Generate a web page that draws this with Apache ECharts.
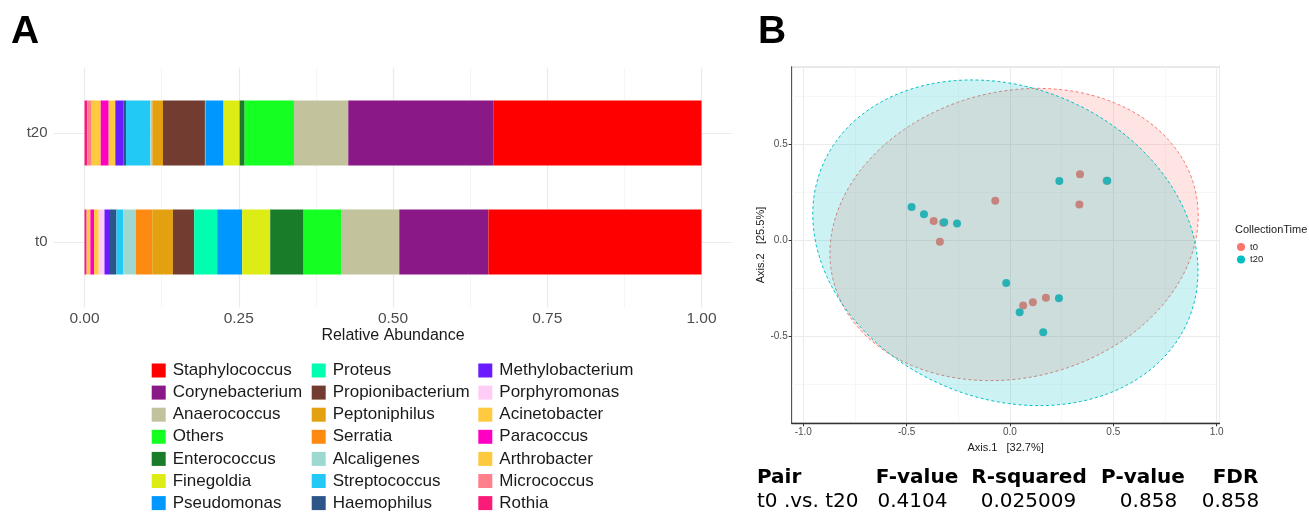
<!DOCTYPE html>
<html><head><meta charset="utf-8">
<script src="https://cdn.jsdelivr.net/npm/echarts@6/dist/echarts.min.js"></script>
<style>html,body{margin:0;padding:0;background:#fff}#c{width:1309px;height:512px}</style>
</head><body><div id="c"></div>
<script>
// ---------- Panel A data ----------
const samples = ['t0', 't20'];
// genera in stacking order (from 0 outward)
const genera = ['Rothia','Micrococcus','Arthrobacter','Paracoccus','Acinetobacter','Porphyromonas','Methylobacterium','Haemophilus','Streptococcus','Alcaligenes','Serratia','Peptoniphilus','Propionibacterium','Proteus','Pseudomonas','Finegoldia','Enterococcus','Others','Anaerococcus','Corynebacterium','Staphylococcus'];
const abundT0  = [0.0025,0.0018,0.0052,0.0060,0.0075,0.0094,0.0089,0.0105,0.0110,0.0206,0.0264,0.0335,0.0345,0.0373,0.0405,0.0454,0.0541,0.0616,0.0935,0.1444,0.3454];
const abundT20 = [0.0045,0.0071,0.0146,0.0130,0.0102,0.0005,0.0135,0.0039,0.0394,0.0028,0.0005,0.0172,0.0680,0.0010,0.0292,0.0260,0.0081,0.0800,0.0880,0.2350,0.3375];
const generaColors = ['#FA1A78','#FF7F8A','#FCC93F','#FF00C3','#FFCA40','#FFCCF5','#6A1BFF','#2C5689','#22C9F5','#9DD9D0','#FF8A12','#E3A112','#723D30','#00FEB0','#0098FF','#DEEC16','#187C28','#15FF22','#C2C39C','#8A1886','#FF0000'];
const legendCol1 = ['Staphylococcus','Corynebacterium','Anaerococcus','Others','Enterococcus','Finegoldia','Pseudomonas'];
const legendCol2 = ['Proteus','Propionibacterium','Peptoniphilus','Serratia','Alcaligenes','Streptococcus','Haemophilus'];
const legendCol3 = ['Methylobacterium','Porphyromonas','Acinetobacter','Paracoccus','Arthrobacter','Micrococcus','Rothia'];

// ---------- Panel B data ----------
const groups = ['t0', 't20'];
const groupColors = ['#F8766D', '#00BFC4'];
const t0Points  = [[-0.369,0.100],[-0.323,0.092],[-0.339,-0.007],[-0.071,0.206],[0.339,0.344],[0.336,0.186],[0.064,-0.340],[0.111,-0.323],[0.174,-0.299],[0.468,0.310]];
const t20Points = [[-0.476,0.173],[-0.416,0.135],[-0.318,0.094],[-0.256,0.087],[0.239,0.309],[0.471,0.310],[-0.018,-0.222],[0.237,-0.302],[0.047,-0.375],[0.161,-0.479]];
// ellipse: [centerX, centerY, varX, covXY, varY] (shape matrix)
const ellipseT0  = [0.020, 0.030, 0.794, 0.087, 0.579];
const ellipseT20 = [-0.022, -0.013, 0.8686, -0.138, 0.719];
const axis1Name = 'Axis.1   [32.7%]';
const axis2Name = 'Axis.2   [25.5%]';

// ---------- Table ----------
const tableHeader = ['Pair','F-value','R-squared','P-value','FDR'];
const tableRow = ['t0 .vs. t20','0.4104','0.025009','0.858','0.858'];

const chart = echarts.init(document.getElementById('c'));
const FONT = 'Liberation Sans';
const gridColor = '#EBEBEB';

const barSeries = genera.map((g, i) => ({
  type: 'bar', name: g, stack: 'total', xAxisIndex: 0, yAxisIndex: 0,
  barWidth: 65, data: [abundT0[i], abundT20[i]],
  itemStyle: { color: generaColors[i] }
}));

function ellipseSeries(name, params, color, fill) {
  return {
    type: 'custom', name: name, xAxisIndex: 3, yAxisIndex: 3, silent: true, z: 5,
    data: [params],
    renderItem: function (p, api) {
      const cx = api.value(0), cy = api.value(1), sxx = api.value(2), sxy = api.value(3), syy = api.value(4);
      const l11 = Math.sqrt(sxx), l21 = sxy / l11, l22 = Math.sqrt(syy - l21 * l21);
      const pts = [];
      for (let k = 0; k <= 360; k++) {
        const t = k * Math.PI / 180;
        pts.push(api.coord([cx + l11 * Math.cos(t), cy + l21 * Math.cos(t) + l22 * Math.sin(t)]));
      }
      return { type: 'polygon', shape: { points: pts }, style: { fill: fill, stroke: color, lineWidth: 1, lineDash: [3, 2.5] } };
    }
  };
}

function barLegend(left, data) {
  return {
    left: left, top: 362, height: 200, padding: 0, orient: 'vertical', data: data, icon: 'rect',
    itemWidth: 14, itemHeight: 14, itemGap: 5.1, selectedMode: false,
    textStyle: { fontSize: 17, color: '#1a1a1a', fontFamily: FONT, padding: [0, 0, 0, 2] }
  };
}

const graphics = [
  { type: 'text', left: 11, top: 13, style: { text: 'A', font: '900 39px "Liberation Sans"', fill: '#000' } },
  { type: 'text', left: 758, top: 13, style: { text: 'B', font: '900 39px "Liberation Sans"', fill: '#000' } }
];
const headX = [757, 917, 1029, 1143, 1235.5];
const rowX = [757, 912.5, 1028.5, 1148.5, 1230.5];
tableHeader.forEach((t, i) => graphics.push({ type: 'text', x: headX[i], y: 478, style: {
  text: t, font: 'bold 20px "DejaVu Sans"', fill: '#000', textAlign: i === 0 ? 'left' : 'center', textVerticalAlign: 'middle' } }));
tableRow.forEach((t, i) => graphics.push({ type: 'text', x: rowX[i], y: 502, style: {
  text: t, font: '20px "DejaVu Sans"', fill: '#000', textAlign: i === 0 ? 'left' : 'center', textVerticalAlign: 'middle' } }));

const option = {
  animation: false,
  textStyle: { fontFamily: FONT },
  title: { text: 'CollectionTime', left: 1235, top: 224, padding: 0, textStyle: { fontSize: 11, fontWeight: 'normal', color: '#1a1a1a', fontFamily: FONT } },
  legend: [
    barLegend(151.7, legendCol1),
    barLegend(311.7, legendCol2),
    barLegend(478.3, legendCol3),
    { left: 1237, top: 242, padding: 0, orient: 'vertical', data: groups, icon: 'circle', itemWidth: 8, itemHeight: 8, itemGap: 2.4,
      selectedMode: false, textStyle: { fontSize: 9.5, color: '#1a1a1a', fontFamily: FONT } }
  ],
  grid: [
    { left: 84.5, width: 617, top: 78.5, height: 218 },
    { left: 84.5, width: 617, top: 67.6, height: 239.8 },
    { left: 53.6, width: 678.8, top: 133, height: 109 },
    { left: 791.7, width: 427.8, top: 66.7, height: 356.6, show: true, borderColor: '#7a7a7a', borderWidth: 1, backgroundColor: 'transparent' }
  ],
  xAxis: [
    { gridIndex: 0, type: 'value', min: 0, max: 1, interval: 0.25,
      axisLine: { show: false }, axisTick: { show: false }, splitLine: { show: false },
      axisLabel: { margin: 14, fontSize: 15.5, color: '#4D4D4D', formatter: v => v.toFixed(2) },
      name: 'Relative Abundance', nameLocation: 'middle', nameGap: 30,
      nameTextStyle: { fontSize: 16, color: '#1a1a1a' } },
    { gridIndex: 1, type: 'value', min: 0, max: 1, interval: 0.25,
      axisLine: { show: false }, axisTick: { show: false }, axisLabel: { show: false },
      splitLine: { show: true, lineStyle: { color: gridColor, width: 1.2 } },
      minorTick: { show: false, splitNumber: 2 },
      minorSplitLine: { show: true, lineStyle: { color: '#F3F3F3', width: 0.8 } } },
    { gridIndex: 2, type: 'value', show: false },
    { gridIndex: 3, type: 'value', min: -1.056, max: 1.014, splitNumber: 5,
      axisLine: { show: true, onZero: false, lineStyle: { color: '#333', width: 1.3 } },
      axisTick: { show: true, length: 3, lineStyle: { color: '#333' } },
      axisLabel: { showMinLabel: false, showMaxLabel: false, margin: 4, fontSize: 10, color: '#4D4D4D', formatter: v => v.toFixed(1) },
      splitLine: { show: true, lineStyle: { color: gridColor, width: 1 } },
      minorTick: { show: false, splitNumber: 2 },
      minorSplitLine: { show: true, lineStyle: { color: '#F4F4F4', width: 0.7 } },
      name: axis1Name, nameLocation: 'middle', nameGap: 11, nameTextStyle: { fontSize: 11, color: '#1a1a1a' } }
  ],
  yAxis: [
    { gridIndex: 0, type: 'category', data: samples,
      axisLine: { show: false }, axisTick: { show: false }, splitLine: { show: false },
      axisLabel: { margin: 37, fontSize: 15, color: '#4D4D4D' } },
    { gridIndex: 1, type: 'value', show: false },
    { gridIndex: 2, type: 'category', data: samples, boundaryGap: false,
      axisLine: { show: false }, axisTick: { show: false }, axisLabel: { show: false },
      splitLine: { show: true, lineStyle: { color: gridColor, width: 1.2 } } },
    { gridIndex: 3, type: 'value', min: -0.953, max: 0.904, splitNumber: 4,
      axisLine: { show: true, onZero: false, lineStyle: { color: '#555', width: 1 } },
      axisTick: { show: true, length: 3, lineStyle: { color: '#333' } },
      axisLabel: { showMinLabel: false, showMaxLabel: false, margin: 4, fontSize: 10, color: '#4D4D4D', formatter: v => v.toFixed(1) },
      splitLine: { show: true, lineStyle: { color: gridColor, width: 1 } },
      minorTick: { show: false, splitNumber: 2 },
      minorSplitLine: { show: true, lineStyle: { color: '#F4F4F4', width: 0.7 } },
      name: axis2Name, nameLocation: 'middle', nameGap: 22, nameTextStyle: { fontSize: 11, color: '#1a1a1a' } }
  ],
  series: barSeries.concat([
    { type: 'scatter', name: groups[0], xAxisIndex: 3, yAxisIndex: 3, z: 2, data: t0Points, symbolSize: 8, itemStyle: { color: groupColors[0], opacity: 1 } },
    { type: 'scatter', name: groups[1], xAxisIndex: 3, yAxisIndex: 3, z: 2, data: t20Points, symbolSize: 8, itemStyle: { color: groupColors[1], opacity: 1 } },
    ellipseSeries('ellT0', ellipseT0, groupColors[0], 'rgba(248,118,109,0.2)'),
    ellipseSeries('ellT20', ellipseT20, groupColors[1], 'rgba(0,191,196,0.2)')
  ]),
  graphic: graphics
};
chart.setOption(option);
</script></body></html>
